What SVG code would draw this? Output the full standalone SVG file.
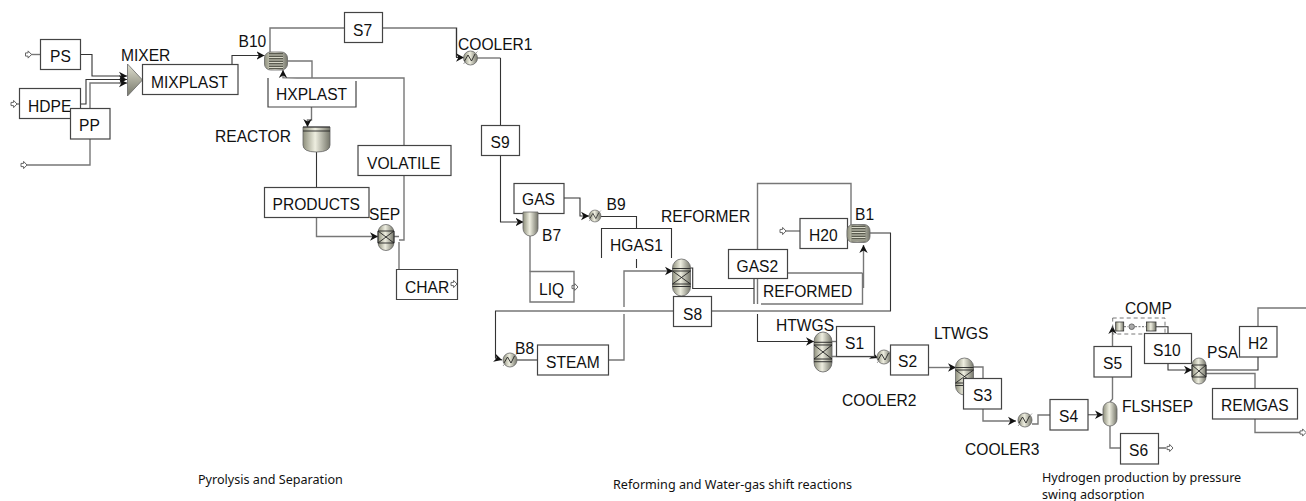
<svg xmlns="http://www.w3.org/2000/svg" xmlns:xlink="http://www.w3.org/1999/xlink" width="1306" height="501" viewBox="0 0 1306 501">
<style>
text{font-family:"Liberation Sans",Arial,sans-serif;font-size:15.6px;fill:#111}
.cap{font-family:"Noto Sans",sans-serif;font-size:12.6px}
.box{fill:#fff;stroke:#444;stroke-width:1.2}
.ln{fill:none;stroke:#333;stroke-width:1.1}
.gr{fill:none;stroke:#777;stroke-width:1.4}
.ar{marker-end:url(#arr)}
.eq{stroke:#666;stroke-width:.8;fill:url(#metal)}
.det{fill:none;stroke:#222;stroke-width:.9}
.feed{fill:#fff;stroke:#666;stroke-width:1}
</style>
<defs>
<linearGradient id="metal" x1="0" x2="1" y1="0" y2="0"><stop offset="0" stop-color="#8e8f7c"/><stop offset=".45" stop-color="#eeeee0"/><stop offset="1" stop-color="#75766a"/></linearGradient>
<linearGradient id="metalv" x1="0" x2="0" y1="0" y2="1"><stop offset="0" stop-color="#e0e0d0"/><stop offset="1" stop-color="#76776a"/></linearGradient>
<marker id="arr" markerUnits="userSpaceOnUse" markerWidth="10" markerHeight="10" refX="8" refY="5" orient="auto"><path d="M0,.8 L8,5 L0,9.2 L2.4,5z" fill="#111"/></marker>
<path id="feedR" class="feed" d="M0,-1.6 H2.6 V-3.6 L6,0 L2.6,3.6 V1.6 H0z"/>
<g id="cool"><circle r="7" class="eq"/><path class="det" d="M-6,3 L-2.5,-3 L1,3 L4.5,-4"/><path d="M-7,6 L-4.5,3 M4.5,-4 L7,-6.5" stroke="#888" stroke-width=".8"/></g>
<g id="rx"><rect x="-9" y="-18.5" width="18" height="37" rx="9" ry="9" class="eq"/><path class="det" d="M-9,-9 H9 M-9,9 H9 M-9,-6.5 H9 M-9,6.5 H9 M-9,-6.5 L9,6.5 M9,-6.5 L-9,6.5"/></g>
<g id="hx"><rect x="-11.5" y="-9" width="23" height="18" rx="6" class="eq"/><rect x="-7" y="-8" width="14" height="16" fill="#5b5c50"/><path d="M-7,-6 H7 M-7,-3.5 H7 M-7,-1 H7 M-7,1.5 H7 M-7,4 H7 M-7,6.5 H7" stroke="#d8d8c8" stroke-width="1"/></g>
</defs>

<g id="connectors">
<path class="gr" d="M31,54.5H40.5"/>
<path class="ln ar" d="M80,54.5H92V76H127"/>
<path class="gr" d="M16,104H19.5"/>
<path class="ln ar" d="M80.5,104H86V79.5H127"/>
<path class="gr ar" d="M90,108.5V83H127"/>
<path class="gr" d="M90,139V165H27"/>
<path class="ln ar" d="M232,64.5V55.5H264.5"/>
<path class="gr" d="M270,52V28H344.5"/>
<path class="gr" d="M382.5,28H456.5V57"/>
<path class="ln ar" d="M456.5,28V57.5H464"/>
<path class="gr" d="M287.5,61H312V78"/>
<path class="gr ar" d="M404,145.5V78H283V70"/>
<path class="gr ar" d="M311.5,107V120H307.5V127"/>
<path class="ln" d="M316.5,152V187.5"/>
<path class="gr ar" d="M316.5,217.5V236.5H378"/>
<path class="gr" d="M394,236.5H399M399,240H404V175.5"/>
<path class="gr" d="M399,242V269.5"/>
<path class="gr" d="M477,58H500.5"/>
<path class="ln" d="M500.5,58V125.5"/>
<path class="ln ar" d="M500.5,155.5V222H523.5"/>
<path class="gr" d="M530,236V271.5"/>
<path class="ln ar" d="M564,198H580V216H589"/>
<path class="ln" d="M601,216.5H636.5V228.5M636.5,259V268"/>
<path class="gr ar" d="M608.5,360H624V314M624,307V271H673"/>
<path class="ln" d="M690.5,268H692.7V288.5H754M754,278V304"/>
<path class="gr" d="M757.5,249.5V183.5H851V225M757.5,278V304"/>
<path class="ln ar" d="M757.5,314V341.5H814"/>
<path class="ln" d="M787.5,273H862.5"/>
<path class="gr ar" d="M863.5,288V245"/>
<path class="gr" d="M800,231H786"/>
<path class="ln" d="M869,233H890.5V311H711.5"/>
<path class="ln ar" d="M673.5,311H495.5V358L502,360"/>
<path class="ln" d="M517,360H537.5"/>
<path class="gr" d="M832,341.5H836.5"/>
<path class="gr ar" d="M832,356.5H874.5L878,358"/>
<path class="gr ar" d="M928.5,367.5H956"/>
<path class="gr" d="M973,367H983V378.5"/>
<path class="gr ar" d="M983,409V421H1016"/>
<path class="gr" d="M1032,424H1038V415H1050"/>
<path class="gr ar" d="M1088,414.7H1103"/>
<path class="gr" d="M1110,402L1112.5,399V377"/>
<path class="gr ar" d="M1112.5,346.5V326"/>
<path class="ln" d="M1156,326.7H1168V333.5"/>
<path class="ln ar" d="M1168,363.5V370H1192"/>
<path class="ln" d="M1206,370H1258V357"/>
<path class="gr" d="M1258,326.5V308H1306"/>
<path class="gr" d="M1206,373.5H1255V388.5"/>
<path class="gr" d="M1255,419V432.5H1300"/>
<path class="gr" d="M1110,426V448H1120.5"/>
<path class="ln" d="M1158.5,448H1166"/>
</g>

<g id="feeds">
<use xlink:href="#feedR" href="#feedR" x="25.5" y="54.5"/>
<use xlink:href="#feedR" href="#feedR" x="11" y="104"/>
<use xlink:href="#feedR" href="#feedR" x="21" y="165"/>
<use xlink:href="#feedR" href="#feedR" x="451" y="284"/>
<use xlink:href="#feedR" href="#feedR" x="572" y="287"/>
<use xlink:href="#feedR" href="#feedR" x="780" y="231"/>
<use xlink:href="#feedR" href="#feedR" x="1167" y="448"/>
<use xlink:href="#feedR" href="#feedR" x="1300" y="432.5"/>
</g>

<g id="PS"><rect class="box" x="40.5" y="39.5" width="40" height="30"/><text x="50" y="62">PS</text></g>
<g id="HDPE"><rect class="box" x="19.5" y="88.5" width="61" height="30"/><text x="28" y="111.5">HDPE</text></g>
<g id="PP"><rect class="box" x="70.5" y="108.5" width="39.5" height="30.5"/><text x="79" y="131">PP</text></g>
<g id="MIXER"><path d="M127.5,64L142.5,80L127.5,96z" fill="url(#metalv)" stroke="#666" stroke-width=".8"/><text x="121" y="61">MIXER</text></g>
<g id="MIXPLAST"><rect class="box" x="142.5" y="64.5" width="95.5" height="30"/><text x="151" y="87.5">MIXPLAST</text></g>
<g id="B10"><use xlink:href="#hx" href="#hx" x="276" y="61"/><text x="238.5" y="47">B10</text></g>
<g id="S7"><rect class="box" x="344.5" y="12.5" width="38" height="30"/><text x="353" y="35.5">S7</text></g>
<g id="COOLER1"><use xlink:href="#cool" href="#cool" x="470.5" y="58"/><text x="458" y="50">COOLER1</text></g>
<g id="HXPLAST"><path class="box" d="M356,81V107H268V78"/><text x="276" y="100">HXPLAST</text></g>
<g id="REACTOR"><path d="M303,127H330V145Q330,152 316.5,152Q303,152 303,145z" class="eq"/><path class="det" d="M303,127H330M303,131H330"/><text x="215" y="142">REACTOR</text></g>
<g id="VOLATILE"><rect class="box" x="358" y="145.5" width="93" height="30"/><text x="367" y="169">VOLATILE</text></g>
<g id="PRODUCTS"><rect class="box" x="264.5" y="187.5" width="104.5" height="30"/><text x="272.5" y="210">PRODUCTS</text></g>
<g id="SEP"><rect x="378" y="224.5" width="16" height="26" rx="8" class="eq"/><path class="det" d="M378,231H394V243H378zM378,231L394,243M394,231L378,243"/><text x="369" y="220">SEP</text></g>
<g id="CHAR"><path class="box" d="M396.5,269.5H457.5V299.5H396.5z" style="fill:none"/><text x="405" y="292.5">CHAR</text></g>
<g id="S9"><rect class="box" x="481.5" y="125.5" width="38" height="30"/><text x="490.5" y="148">S9</text></g>
<g id="GAS"><rect class="box" x="514" y="183.5" width="50" height="30"/><text x="522" y="204.5">GAS</text></g>
<g id="B7"><path d="M523,212H538V228.5A7.5,7.5 0 0 1 523,228.5z" class="eq"/><text x="542" y="241">B7</text></g>
<g id="LIQ"><path class="gr" d="M530,271.5H574V302H530z"/><text x="539" y="294.5">LIQ</text></g>
<g id="B9"><use xlink:href="#cool" href="#cool" x="595" y="216" transform="translate(595 216) scale(.85) translate(-595 -216)"/><text x="606.5" y="210">B9</text></g>
<g id="HGAS1"><path class="ln" d="M601.5,258V228.5H671.5V258"/><text x="610" y="251">HGAS1</text></g>
<g id="REFORMER"><use xlink:href="#rx" href="#rx" x="681.5" y="277.5"/><text x="661" y="222">REFORMER</text></g>
<g id="S8"><rect class="box" x="673.5" y="296.5" width="38" height="30"/><text x="683" y="319.5">S8</text></g>
<g id="STEAM"><rect class="box" x="537.5" y="345" width="71" height="30"/><text x="546" y="368">STEAM</text></g>
<g id="B8"><use xlink:href="#cool" href="#cool" x="510" y="360"/><text x="515" y="354">B8</text></g>
<g id="H20"><rect class="box" x="800" y="218.5" width="47.5" height="30"/><text x="809" y="241">H20</text></g>
<g id="B1"><use xlink:href="#hx" href="#hx" x="858.5" y="233.5"/><text x="855" y="220">B1</text></g>
<g id="GAS2"><rect class="box" x="728.5" y="249.5" width="59" height="29"/><text x="736.5" y="272">GAS2</text></g>
<g id="REFORMED"><path class="gr" d="M862.5,273V304H761"/><text x="763" y="297">REFORMED</text></g>
<g id="HTWGS"><use xlink:href="#rx" href="#rx" x="823" y="352" transform="translate(823 352) scale(1 1.08) translate(-823 -352)"/><text x="776" y="331">HTWGS</text></g>
<g id="S1"><rect class="box" x="836.5" y="326.5" width="38" height="30"/><text x="845" y="349">S1</text></g>
<g id="COOLER2"><use xlink:href="#cool" href="#cool" x="884" y="357"/><text x="842" y="406">COOLER2</text></g>
<g id="S2"><rect class="box" x="890.5" y="345" width="38" height="30"/><text x="898" y="367">S2</text></g>
<g id="LTWGS"><use xlink:href="#rx" href="#rx" x="964.5" y="376.5"/><text x="934" y="339">LTWGS</text></g>
<g id="S3"><rect class="box" x="963.5" y="378.5" width="38" height="30.5"/><text x="973" y="401">S3</text></g>
<g id="COOLER3"><use xlink:href="#cool" href="#cool" x="1025" y="420"/><text x="965" y="455">COOLER3</text></g>
<g id="S4"><rect class="box" x="1050" y="399.5" width="38" height="30.5"/><text x="1059" y="422">S4</text></g>
<g id="FLSHSEP"><rect x="1103" y="402" width="14" height="24" rx="7" class="eq"/><text x="1122" y="412">FLSHSEP</text></g>
<g id="S5"><rect class="box" x="1094" y="346.5" width="37.5" height="30.5"/><text x="1103" y="369">S5</text></g>
<g id="S6"><rect class="box" x="1120.5" y="433.5" width="38" height="30.5"/><text x="1129" y="456">S6</text></g>
<g id="COMP"><rect x="1112.7" y="318" width="52.3" height="16" fill="none" stroke="#555" stroke-width=".8" stroke-dasharray="4 3"/><rect x="1115.7" y="322" width="8" height="9" fill="url(#metal)" stroke="#333" stroke-width=".8"/><rect x="1146.5" y="322" width="9.5" height="9" fill="url(#metal)" stroke="#333" stroke-width=".8"/><circle cx="1131.7" cy="326.7" r="2.8" fill="#aaa" stroke="#444" stroke-width=".7"/><path d="M1124,326.7H1128M1135,326.7H1146" stroke="#444" stroke-width=".8" stroke-dasharray="2 1.5"/><text x="1125" y="314">COMP</text></g>
<g id="S10"><rect class="box" x="1144.5" y="333.5" width="47" height="30"/><text x="1153" y="356">S10</text></g>
<g id="PSA"><rect x="1192" y="358" width="14" height="26" rx="7" class="eq"/><path class="det" d="M1192,365H1206V377H1192zM1192,365L1206,377M1206,365L1192,377"/><text x="1207" y="358">PSA</text></g>
<g id="H2"><rect class="box" x="1239.5" y="326.5" width="37.5" height="30.5"/><text x="1248" y="349">H2</text></g>
<g id="REMGAS"><rect class="box" x="1212.5" y="388.5" width="85" height="30.5"/><text x="1221" y="411">REMGAS</text></g>

<g id="captions">
<text class="cap" x="198" y="484">Pyrolysis and Separation</text>
<text class="cap" x="613" y="489">Reforming and Water-gas shift reactions</text>
<text class="cap" x="1042" y="482">Hydrogen production by pressure</text>
<text class="cap" x="1042" y="499">swing adsorption</text>
</g>
</svg>
